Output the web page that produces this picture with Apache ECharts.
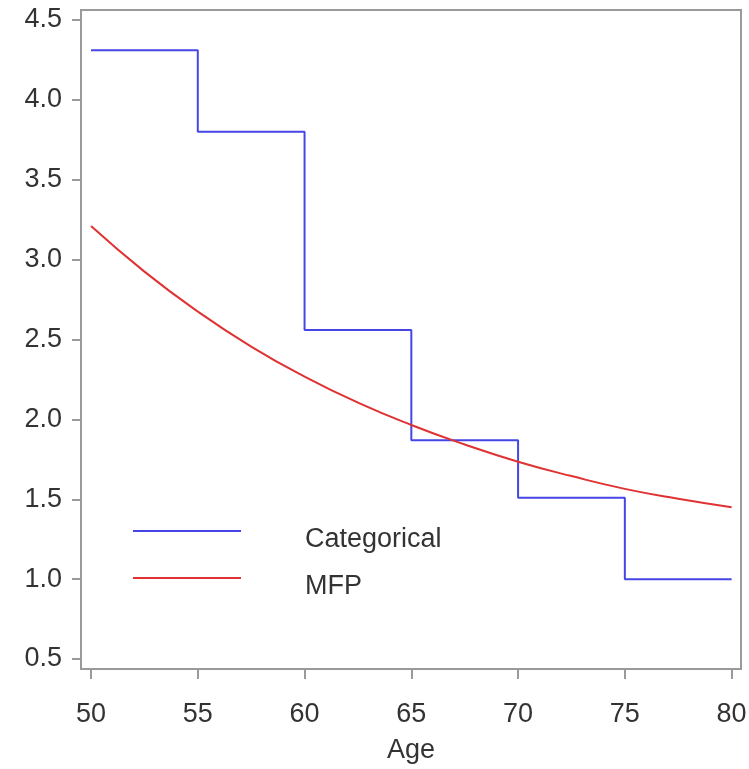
<!DOCTYPE html>
<html>
<head>
<meta charset="utf-8">
<script src="https://cdn.jsdelivr.net/npm/echarts@6/dist/echarts.min.js"></script>
<style>html,body{margin:0;padding:0;background:#fff;}#c{width:749px;height:769px;}</style>
</head>
<body>
<div id="c"></div>
<script>
// Step function (categorical age groups): start age of each group and its value
const catAges = [50, 55, 60, 65, 70, 75, 80];
const catValues = [4.31, 3.80, 2.56, 1.87, 1.51, 1.00, 1.00];
// MFP fitted curve
const mfpAges = [50, 52.5, 55, 57.5, 60, 62.5, 65, 67.5, 70, 72.5, 75, 77.5, 80];
const mfpValues = [3.21, 2.925, 2.675, 2.456, 2.268, 2.105, 1.965, 1.843, 1.735, 1.645, 1.565, 1.503, 1.45];
// Tick labels
const xTicks = [50, 55, 60, 65, 70, 75, 80];
const yTicks = [0.5, 1.0, 1.5, 2.0, 2.5, 3.0, 3.5, 4.0, 4.5];

const FONT = '"Liberation Sans", Arial, Helvetica, sans-serif';
const AXIS = '#9a9a9a';
const TXT = '#333333';

const chart = echarts.init(document.getElementById('c'), null, {renderer: 'canvas'});
chart.setOption({
  animation: false,
  backgroundColor: '#fff',
  grid: {left: 81, top: 10, right: 8, bottom: 100, show: true, borderColor: AXIS, borderWidth: 2,
    containLabel: false, outerBoundsMode: 'none'},
  xAxis: {
    type: 'value', min: 49.53, max: 80.44,
    name: 'Age', nameLocation: 'middle', nameGap: 68,
    nameTextStyle: {fontFamily: FONT, fontSize: 27, color: TXT},
    axisLine: {show: true, lineStyle: {color: AXIS, width: 2}},
    axisTick: {show: true, length: 10, lineStyle: {color: AXIS, width: 2}, customValues: xTicks},
    axisLabel: {fontFamily: FONT, fontSize: 27, color: TXT, margin: 32, customValues: xTicks,
      formatter: v => String(Math.round(v))},
    splitLine: {show: false}
  },
  yAxis: {
    type: 'value', min: 0.4375, max: 4.5625,
    axisLine: {show: true, lineStyle: {color: AXIS, width: 2}},
    axisTick: {show: true, length: 9, lineStyle: {color: AXIS, width: 2}, customValues: yTicks},
    axisLabel: {fontFamily: FONT, fontSize: 27, color: TXT, margin: 19, customValues: yTicks,
      formatter: v => v.toFixed(1)},
    splitLine: {show: false}
  },
  legend: {
    orient: 'vertical', left: 133, top: 509, padding: 0,
    icon: 'rect', itemWidth: 108, itemHeight: 2, itemGap: 3,
    formatter: '{t|{name}}',
    textStyle: {fontFamily: FONT, fontSize: 27, color: TXT, padding: [0, 0, 0, 59],
      rich: {t: {fontFamily: FONT, fontSize: 27, color: TXT, lineHeight: 27, padding: [17, 0, 0, 0]}}},
    data: ['Categorical', 'MFP']
  },
  series: [
    {
      name: 'Categorical', type: 'line', step: 'end', symbol: 'none',
      lineStyle: {color: '#4646e6', width: 2}, itemStyle: {color: '#4646e6'},
      data: catAges.map((a, i) => [a, catValues[i]])
    },
    {
      name: 'MFP', type: 'line', smooth: true, symbol: 'none',
      lineStyle: {color: '#e03232', width: 2}, itemStyle: {color: '#e03232'},
      data: mfpAges.map((a, i) => [a, mfpValues[i]])
    }
  ]
});
</script>
</body>
</html>
